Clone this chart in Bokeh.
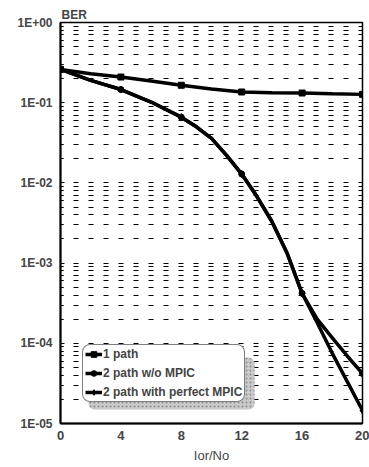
from bokeh.plotting import figure
from bokeh.models import (FixedTicker, CustomJSTickFormatter, Legend, LegendItem,
                          BoxAnnotation)
from bokeh.embed import file_html
from bokeh.resources import INLINE

# ---------------- data ----------------
x_1path = [0, 2, 4, 6, 8, 10, 12, 14, 16, 18, 20]
ber_1path = [0.26, 0.23, 0.209, 0.186, 0.165, 0.148, 0.136, 0.133, 0.132, 0.129, 0.127]

x_2path = [0, 2, 4, 6, 8, 9, 10, 11, 12, 13, 14, 15, 16, 17, 18, 19, 20]
ber_2path_wo = [0.26, 0.19, 0.146, 0.102, 0.066, 0.05, 0.036, 0.022, 0.0129, 0.0068,
                0.0033, 0.00134, 0.00042, 0.0002, 0.000117, 0.000069, 0.000042]
ber_2path_mpic = [0.26, 0.19, 0.146, 0.102, 0.066, 0.05, 0.036, 0.022, 0.0129, 0.0068,
                  0.0033, 0.00134, 0.00042, 0.00018, 0.000075, 0.000033, 0.0000145]

marker_x = [0, 4, 8, 12, 16, 20]
series_names = ["1 path", "2 path w/o MPIC", "2 path with perfect MPIC"]

x_ticks = [0, 4, 8, 12, 16, 20]
y_ticks = [1e-5, 1e-4, 1e-3, 1e-2, 1e-1, 1]
y_tick_labels = ["1E-05", "1E-04", "1E-03", "1E-02", "1E-01", "1E+00"]
y_minor = [m * d for d in y_ticks[:-1] for m in range(2, 10)]

x_label = "Ior/No"
y_label = "BER"

FONT = "Liberation Sans"

p = figure(width=369, height=467, x_range=(0, 20), y_range=(1e-5, 1),
           y_axis_type="log", output_backend="svg", toolbar_location=None,
           min_border_left=60, min_border_right=7, min_border_top=22, min_border_bottom=44)

p.title.text = y_label
p.title.text_font = FONT
p.title.text_font_size = "12px"
p.title.text_font_style = "bold"
p.title.align = "left"
p.title.standoff = 2
p.title.offset = 1

p.background_fill_color = "white"
p.border_fill_color = "white"
p.outline_line_color = "black"
p.outline_line_width = 1.5

# axes
p.xaxis.ticker = FixedTicker(ticks=x_ticks)
p.xaxis.axis_label = x_label
p.xaxis.axis_label_text_font = FONT
p.xaxis.axis_label_text_font_size = "13px"
p.xaxis.axis_label_text_font_style = "normal"
p.xaxis.axis_label_standoff = 5
p.xaxis.major_label_text_font = FONT
p.xaxis.major_label_text_font_size = "13px"
p.xaxis.major_label_text_font_style = "bold"
p.xaxis.major_label_standoff = 7
p.xaxis.major_tick_out = 0
p.xaxis.major_tick_in = 0
p.xaxis.minor_tick_out = 0
p.xaxis.minor_tick_in = 0
p.xaxis.axis_line_width = 2

p.yaxis.ticker = FixedTicker(ticks=y_ticks, minor_ticks=y_minor)
p.yaxis.formatter = CustomJSTickFormatter(args=dict(labels=y_tick_labels),
    code="const i = Math.round(Math.log10(tick)) + 5; return labels[i];")
p.yaxis.major_label_text_font = FONT
p.yaxis.major_label_text_font_size = "12px"
p.yaxis.major_label_text_font_style = "bold"
p.yaxis.major_label_standoff = 8
p.yaxis.major_tick_out = 0
p.yaxis.major_tick_in = 4
p.yaxis.minor_tick_out = 0
p.yaxis.minor_tick_in = 3
p.yaxis.axis_line_width = 2

# grid: horizontal dashed lines only
p.xgrid.grid_line_color = None
p.ygrid.grid_line_color = "black"
p.ygrid.grid_line_width = 1
p.ygrid.grid_line_dash = "5 10"
p.ygrid.grid_line_dash_offset = 2
p.ygrid.minor_grid_line_color = "black"
p.ygrid.minor_grid_line_width = 1
p.ygrid.minor_grid_line_dash = "5 10"
p.ygrid.minor_grid_line_dash_offset = 2

# curves
def pick(xs, ys):
    mx = [x for x in xs if x in marker_x]
    my = [y for x, y in zip(xs, ys) if x in marker_x]
    return mx, my

items = []
specs = [
    (x_1path, ber_1path, "square", 6),
    (x_2path, ber_2path_wo, "circle", 6),
    (x_2path, ber_2path_mpic, "diamond", 7),
]
for name, (xs, ys, mk, ms) in zip(series_names, specs):
    ln = p.line(xs, ys, line_color="black", line_width=3.5)
    mx, my = pick(xs, ys)
    sc = p.scatter(mx, my, marker=mk, size=ms, fill_color="black", line_color="black")
    items.append(LegendItem(label=name, renderers=[ln, sc]))

# legend shadow (screen px measured from the frame's lower-left corner)
shadow = BoxAnnotation(left=28, right=194, bottom=14, top=66,
                       left_units="screen", right_units="screen",
                       top_units="screen", bottom_units="screen",
                       fill_color="#c4c4c4", fill_alpha=0.9, line_color=None,
                       hatch_pattern="dot", hatch_color="#8a8a8a", hatch_scale=4,
                       border_radius=6)
p.add_layout(shadow)

legend = Legend(items=items, location=(22, 21), margin=0, padding=2, spacing=5,
                glyph_width=17, glyph_height=14, label_height=14, label_standoff=1,
                label_text_font=FONT, label_text_font_size="12px",
                label_text_font_style="bold",
                border_line_color="black", border_line_width=1.5,
                background_fill_color="white", background_fill_alpha=1,
                border_radius=8)
p.add_layout(legend, "center")

open("out.html", "w").write(file_html(p, INLINE))
